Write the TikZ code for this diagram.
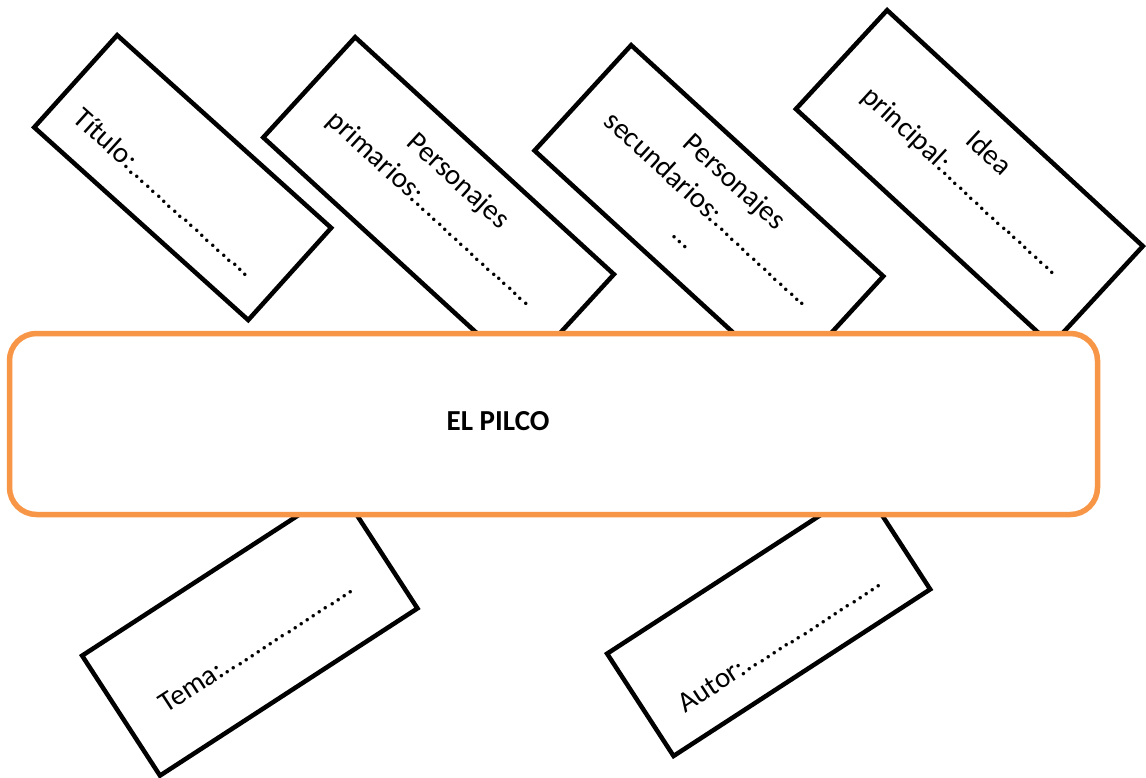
\documentclass[tikz,border=0pt]{standalone}
\usepackage{fontspec}
\setmainfont{Carlito}
\definecolor{borange}{HTML}{F79646}
\tikzset{
  card/.style={draw=black, line width=4.5pt, fill=white, anchor=north west, transform shape, inner sep=0pt},
  lbl/.style={anchor=base, transform shape, inner sep=0pt, font=\fontsize{29}{35}\selectfont},
  mainbox/.style={draw=borange, line width=5.5pt, rounded corners=27pt, fill=white, inner sep=0pt},
  maintext/.style={anchor=base west, inner sep=0pt, font=\fontsize{29}{35}\selectfont\bfseries}
}
\begin{document}
\begin{tikzpicture}[x=1pt, y=-1pt]
\useasboundingbox (0,0) rectangle (1146,778);
% Titulo
\begin{scope}[shift={(117,32)}, rotate=-42]
  \node[card, minimum width=288pt, minimum height=124pt] (titulo) at (0,0) {};
  \node[lbl] (tituloT) at (144,96) {Título:......................};
\end{scope}
% Personajes primarios
\begin{scope}[shift={(355,34)}, rotate=-42.5]
  \node[card, minimum width=351pt, minimum height=136pt] (prim) at (0,0) {};
  \node[lbl] (primA) at (175.5,47) {Personajes};
  \node[lbl] (primB) at (175.5,85) {primarios:.....................};
\end{scope}
% Personajes secundarios
\begin{scope}[shift={(631,42)}, rotate=-42.5]
  \node[card, minimum width=342pt, minimum height=143pt] (sec) at (0,0) {};
  \node[lbl] (secA) at (171,42) {Personajes};
  \node[lbl] (secB) at (171,79) {secundarios:.................};
  \node[lbl] (secC) at (171,116) {…};
\end{scope}
% Idea principal
\begin{scope}[shift={(887,7)}, rotate=-42.7]
  \node[card, minimum width=348pt, minimum height=134.5pt] (idea) at (0,0) {};
  \node[lbl] (ideaA) at (174,47) {Idea};
  \node[lbl] (ideaB) at (174,85) {principal:.....................};
\end{scope}
% Tema
\begin{scope}[shift={(79,655)}, rotate=33]
  \node[card, minimum width=307pt, minimum height=143pt] (tema) at (0,0) {};
  \node[lbl] (temaT) at (153.5,97) {Tema:.....................};
\end{scope}
% Autor
\begin{scope}[shift={(604,653)}, rotate=33]
  \node[card, minimum width=306pt, minimum height=122pt] (autor) at (0,0) {};
  \node[lbl] (autorT) at (153,95) {Autor:......................};
\end{scope}
% Main box
\node[mainbox, minimum width=1088pt, minimum height=181pt] (main) at (553.5,424) {};
\node[maintext] (mainT) at (446.5,430) {EL PILCO};
\end{tikzpicture}
\end{document}
